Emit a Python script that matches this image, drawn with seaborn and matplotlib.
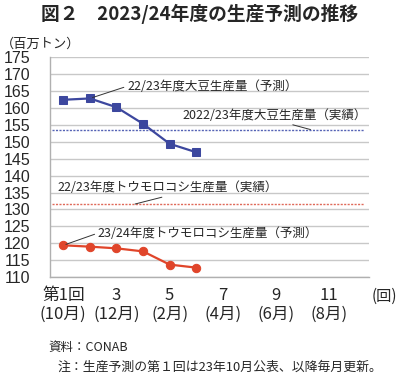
import matplotlib
matplotlib.use("Agg")
import matplotlib.pyplot as plt
import seaborn as sns
import pandas as pd
import numpy as np

# ---- data ----
rounds = [1, 2, 3, 4, 5, 6]
soy_forecast = [162.4, 162.8, 160.2, 155.3, 149.4, 146.9]
corn_forecast = [119.4, 119.0, 118.5, 117.6, 113.7, 112.8]
soy_actual_2223 = 153.6
corn_actual_2223 = 131.6
tick_positions = [1, 3, 5, 7, 9, 11]
tick_labels = ["第1回\n(10月)", "3\n(12月)", "5\n(2月)", "7\n(4月)", "9\n(6月)", "11\n(8月)"]
y_ticks = [110, 115, 120, 125, 130, 135, 140, 145, 150, 155, 160, 165, 170, 175]

sns.set_theme(style="white")
plt.rcParams['font.family'] = ['Noto Sans CJK JP', 'DejaVu Sans']

df = pd.DataFrame({
    "round": rounds * 2,
    "value": soy_forecast + corn_forecast,
    "series": ["soy"] * len(rounds) + ["corn"] * len(rounds),
})

fig = plt.figure(figsize=(4.0, 3.76), dpi=100)
ax = fig.add_axes([0.125, 0.263, 0.7975, 0.585])

blue = "#3c479e"
red = "#e0452a"

ax.set_ylim(110, 175)
ax.set_xlim(0.5, 12.5)
ax.set_yticks(y_ticks)
ax.yaxis.grid(True, color="#c8c8c8", linewidth=1.0)
ax.set_axisbelow(True)

# reference lines
ax.axhline(soy_actual_2223, xmin=0.005, xmax=0.985, color="#5563b5", linestyle=(0, (1.5, 1)), linewidth=1.0)
ax.axhline(corn_actual_2223, xmin=0.005, xmax=0.985, color="#e06a5a", linestyle=(0, (1.5, 1)), linewidth=1.0)

sns.lineplot(data=df[df.series == "soy"], x="round", y="value", ax=ax, color=blue,
             marker="s", markersize=6, markeredgecolor=blue, linewidth=1.6, legend=False)
sns.lineplot(data=df[df.series == "corn"], x="round", y="value", ax=ax, color=red,
             marker="o", markersize=6, markeredgecolor=red, linewidth=1.6, legend=False)

ax.set_xlabel("")
ax.set_ylabel("")

for s in ["top", "right"]:
    ax.spines[s].set_visible(False)
for s in ["left", "bottom"]:
    ax.spines[s].set_color("#b0b0b0")
    ax.spines[s].set_linewidth(1.0)

ax.set_xticks(tick_positions)
ax.set_xticklabels(tick_labels, fontsize=12, linespacing=1.15)
ax.set_xticks(np.arange(0.5, 13.0, 1.0), minor=True)
ax.tick_params(axis="x", which="major", length=0, pad=7)
ax.tick_params(axis="x", which="minor", length=4, color="#b0b0b0", width=1.0, direction="out")
ax.tick_params(axis="y", which="major", length=0, labelsize=11.5, pad=14)
for lbl in ax.get_yticklabels():
    lbl.set_family(['Liberation Sans', 'DejaVu Sans'])

# annotations
fs = 9
ax.annotate("22/23年度大豆生産量（予測）", xy=(2, soy_forecast[1]), xytext=(3.4, 166.4),
            fontsize=fs, va="center", ha="left",
            arrowprops=dict(arrowstyle="-", color="#333333", lw=0.7, shrinkA=0, shrinkB=2,
                            relpos=(0, 0.5)))
ax.annotate("2022/23年度大豆生産量（実績）", xy=(10.3, soy_actual_2223), xytext=(5.5, 157.9),
            fontsize=fs, va="center", ha="left",
            arrowprops=dict(arrowstyle="-", color="#333333", lw=0.7, shrinkA=0, shrinkB=0,
                            relpos=(0.53, 0)))
ax.annotate("22/23年度トウモロコシ生産量（実績）", xy=(3.7, corn_actual_2223), xytext=(0.8, 136.5),
            fontsize=fs, va="center", ha="left",
            arrowprops=dict(arrowstyle="-", color="#333333", lw=0.7, shrinkA=0, shrinkB=0,
                            relpos=(0.53, 0)))
ax.annotate("23/24年度トウモロコシ生産量（予測）", xy=(1, corn_forecast[0]), xytext=(2.3, 123.0),
            fontsize=fs, va="center", ha="left",
            arrowprops=dict(arrowstyle="-", color="#333333", lw=0.7, shrinkA=0, shrinkB=2,
                            relpos=(0, 0.5)))

fig.text(0.5, 0.962, "図２　2023/24年度の生産予測の推移", fontsize=13.5, fontweight="bold",
         ha="center", va="center")
fig.text(0.003, 0.883, "（百万トン）", fontsize=9.5, ha="left", va="center")
fig.text(0.962, 0.213, "(回)", fontsize=11, ha="center", va="center")
fig.text(0.12, 0.075, "資料：CONAB", fontsize=9, ha="left", va="center")
fig.text(0.145, 0.024, "注：生産予測の第１回は23年10月公表、以降毎月更新。", fontsize=9.3, ha="left", va="center")

fig.savefig("out.png", dpi=100)
